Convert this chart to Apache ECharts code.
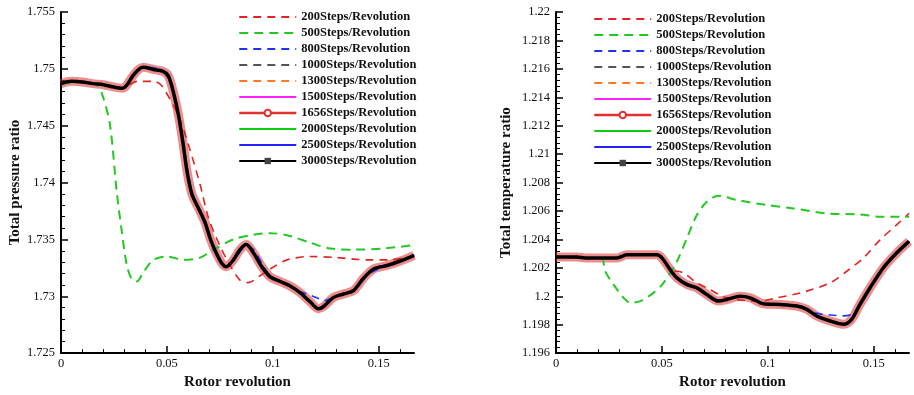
<!DOCTYPE html>
<html>
<head>
<meta charset="utf-8">
<script src="https://cdn.jsdelivr.net/npm/echarts@6/dist/echarts.min.js"></script>
<style>
  html, body { margin: 0; padding: 0; background: #fff; }
  #chart { width: 914px; height: 395px; }
</style>
</head>
<body>
<div id="chart"></div>
<script>
const seriesNames = [
  "200Steps/Revolution", "500Steps/Revolution", "800Steps/Revolution",
  "1000Steps/Revolution", "1300Steps/Revolution", "1500Steps/Revolution",
  "1656Steps/Revolution", "2000Steps/Revolution", "2500Steps/Revolution",
  "3000Steps/Revolution",
];

const xMajorTicks = [0, 0.05, 0.1, 0.15];
const xMinorTicks = [0.01, 0.02, 0.03, 0.04, 0.06, 0.07, 0.08, 0.09, 0.11, 0.12, 0.13, 0.14, 0.16];

// total pressure ratio (left panel)
const pressureFine = [
  [0, 1.7487], [0.005, 1.7489], [0.01, 1.74885], [0.015, 1.7487], [0.02, 1.7486],
  [0.025, 1.7484], [0.029, 1.7483], [0.031, 1.74855], [0.034, 1.7494], [0.037, 1.75],
  [0.039, 1.75015], [0.0436, 1.74995], [0.048, 1.7498], [0.0506, 1.7494], [0.053, 1.748],
  [0.0555, 1.7459], [0.0575, 1.7436], [0.0595, 1.741], [0.0618, 1.739], [0.065, 1.7377],
  [0.068, 1.7365], [0.0704, 1.7351], [0.0728, 1.734], [0.0759, 1.7329], [0.078, 1.7326],
  [0.0814, 1.7332], [0.0845, 1.7341], [0.0875, 1.73455], [0.0909, 1.7338], [0.0948, 1.7326],
  [0.0988, 1.7317], [0.1035, 1.7313], [0.1082, 1.7309], [0.113, 1.7303], [0.1177, 1.7295],
  [0.1215, 1.7289], [0.124, 1.7291], [0.1287, 1.7299], [0.1334, 1.7302], [0.1381, 1.7305],
  [0.1429, 1.7316], [0.1476, 1.7324], [0.1539, 1.7327], [0.1602, 1.7331], [0.1667, 1.7336],
];
const pressure200 = [
  [0, 1.7487], [0.01, 1.74885], [0.02, 1.7486], [0.029, 1.7483], [0.032, 1.7486],
  [0.036, 1.7489], [0.04, 1.7489], [0.044, 1.7489], [0.0476, 1.7485], [0.0554, 1.7459],
  [0.0602, 1.7433], [0.0657, 1.7398], [0.0696, 1.7369], [0.0751, 1.7344], [0.0799, 1.7327],
  [0.0846, 1.7314], [0.0884, 1.7312], [0.094, 1.7318], [0.0988, 1.7324], [0.1067, 1.7332],
  [0.1177, 1.7335], [0.13, 1.7334], [0.1445, 1.7332], [0.155, 1.7332], [0.1667, 1.7335],
];
const pressure500 = [
  [0, 1.7487], [0.01, 1.74885], [0.017, 1.7486], [0.0199, 1.7475], [0.0232, 1.745],
  [0.0263, 1.7392], [0.0287, 1.7357], [0.031, 1.7328], [0.0334, 1.7315], [0.0358, 1.7313],
  [0.0389, 1.7321], [0.0436, 1.7332], [0.05, 1.7335], [0.0578, 1.7332], [0.0657, 1.7334],
  [0.072, 1.7341], [0.0814, 1.735], [0.0909, 1.7354], [0.0988, 1.73555], [0.1082, 1.7353],
  [0.1177, 1.7347], [0.1271, 1.7342], [0.1381, 1.7341], [0.1523, 1.7342], [0.1667, 1.7345],
];
const pressure800 = [
  [0, 1.7487], [0.01, 1.74885], [0.02, 1.7486], [0.029, 1.7483], [0.034, 1.7494],
  [0.039, 1.75015], [0.048, 1.7498], [0.053, 1.748], [0.0575, 1.7436], [0.0618, 1.7392],
  [0.065, 1.7376], [0.068, 1.7363], [0.0728, 1.7339], [0.078, 1.7327], [0.0814, 1.7331],
  [0.0875, 1.7344], [0.0909, 1.7341], [0.0948, 1.7329], [0.0988, 1.7318], [0.1082, 1.7309],
  [0.113, 1.7304], [0.1177, 1.7301], [0.1215, 1.7298], [0.124, 1.7296], [0.1287, 1.7299],
  [0.1381, 1.7305], [0.1429, 1.7315], [0.1476, 1.7322], [0.1539, 1.7327], [0.1667, 1.7336],
];

// total temperature ratio (right panel)
const temperatureFine = [
  [0, 1.20276], [0.0099, 1.20276], [0.0138, 1.2027], [0.0288, 1.20269], [0.0335, 1.20292],
  [0.0476, 1.20292], [0.05, 1.2027], [0.0539, 1.20187], [0.0571, 1.20129], [0.0618, 1.20082],
  [0.0665, 1.20059], [0.0712, 1.20012], [0.0767, 1.19966], [0.0807, 1.19977], [0.0869, 1.2],
  [0.0917, 1.19989], [0.0979, 1.19947], [0.1058, 1.19942], [0.1137, 1.19931], [0.1184, 1.19908],
  [0.1231, 1.19861], [0.1294, 1.19826], [0.1357, 1.19803], [0.1396, 1.19838], [0.1435, 1.19942],
  [0.1483, 1.2006], [0.1545, 1.20199], [0.1608, 1.20304], [0.1667, 1.20386],
];
const temperature200 = [
  [0, 1.20276], [0.0138, 1.2027], [0.0288, 1.20269], [0.0335, 1.20292], [0.0476, 1.20292],
  [0.05, 1.2027], [0.0539, 1.2019], [0.0602, 1.20164], [0.0665, 1.20094], [0.0712, 1.20059],
  [0.0807, 1.19989], [0.0964, 1.19966], [0.1042, 1.19989], [0.1121, 1.20012], [0.1184, 1.20036],
  [0.1294, 1.20094], [0.1373, 1.20176], [0.1451, 1.20269], [0.153, 1.20397], [0.1608, 1.20502],
  [0.1667, 1.20583],
];
const temperature500 = [
  [0, 1.20276], [0.0138, 1.2027], [0.0215, 1.2027], [0.0232, 1.20176], [0.0272, 1.20082],
  [0.0319, 1.19989], [0.035, 1.19954], [0.0398, 1.19966], [0.046, 1.20024], [0.0508, 1.20094],
  [0.0571, 1.20246], [0.0618, 1.20409], [0.0665, 1.20571], [0.0712, 1.20665], [0.0767, 1.20707],
  [0.0854, 1.20677], [0.0995, 1.20642], [0.1121, 1.20618], [0.1278, 1.20583], [0.1435, 1.20576],
  [0.153, 1.2056], [0.1667, 1.2056],
];
const temperature800 = [
  [0, 1.20276], [0.0138, 1.2027], [0.0288, 1.20269], [0.0335, 1.20292], [0.0476, 1.20292],
  [0.05, 1.2027], [0.0571, 1.20129], [0.0665, 1.20059], [0.0767, 1.19966], [0.0869, 1.2],
  [0.0979, 1.19947], [0.1137, 1.19931], [0.1184, 1.19912], [0.1231, 1.1988], [0.1294, 1.19868],
  [0.1357, 1.19862], [0.1396, 1.19875], [0.1435, 1.19942], [0.1545, 1.20199], [0.1667, 1.20386],
];

const FONT = '"Times New Roman", "Liberation Serif", serif';

const STYLES = {
  "200Steps/Revolution": { color: "#e02424", type: [8, 6], width: 1.6, z: 4 },
  "500Steps/Revolution": { color: "#22c922", type: [9, 6], width: 2, z: 4 },
  "800Steps/Revolution": { color: "#2233ee", type: [8, 6], width: 1.6, z: 3 },
  "1000Steps/Revolution": { color: "#555555", type: [8, 6], width: 1.6, z: 2 },
  "1300Steps/Revolution": { color: "#ff7722", type: [8, 6], width: 1.6, z: 2 },
  "1500Steps/Revolution": { color: "#ff22ff", type: "solid", width: 1.6, z: 2 },
  "1656Steps/Revolution": { color: "#e03030", type: "solid", width: 9, z: 1, opacity: 0.55, symbol: "emptyCircle" },
  "2000Steps/Revolution": { color: "#11cc11", type: "solid", width: 1.6, z: 2 },
  "2500Steps/Revolution": { color: "#2222ff", type: "solid", width: 1.6, z: 2 },
  "3000Steps/Revolution": { color: "#000000", type: "solid", width: 3.5, z: 5, symbol: "rect" },
};

const pressureData = {
  "200Steps/Revolution": pressure200,
  "500Steps/Revolution": pressure500,
  "800Steps/Revolution": pressure800,
};
const temperatureData = {
  "200Steps/Revolution": temperature200,
  "500Steps/Revolution": temperature500,
  "800Steps/Revolution": temperature800,
};

function makeSeries(name, data, xIdx, yIdx) {
  const s = STYLES[name];
  return {
    name,
    type: "line",
    xAxisIndex: xIdx,
    yAxisIndex: yIdx,
    data,
    z: s.z,
    symbol: s.symbol || "none",
    showSymbol: false,
    smooth: 0.3,
    color: s.color,
    lineStyle: { color: s.color, type: s.type, width: s.width, opacity: s.opacity ?? 1 },
    emphasis: { disabled: true },
  };
}

const series = [];
seriesNames.forEach((n) => series.push(makeSeries(n, pressureData[n] || pressureFine, 0, 0)));
seriesNames.forEach((n) => series.push(makeSeries(n, temperatureData[n] || temperatureFine, 2, 1)));

const legendData = seriesNames.map((n) => {
  if (n === "1656Steps/Revolution") {
    return { name: n, lineStyle: { width: 2.5, opacity: 1 }, itemStyle: { color: "#e03030", borderWidth: 1 } };
  }
  if (n === "3000Steps/Revolution") {
    return { name: n, lineStyle: { width: 2 }, itemStyle: { color: "#444" } };
  }
  return { name: n, lineStyle: { width: 2 }, itemStyle: { opacity: 0 } };
});

function legendAt(left, top) {
  return {
    orient: "vertical",
    left,
    top,
    itemWidth: 57,
    itemHeight: 8,
    itemGap: 2,
    selectedMode: false,
    textStyle: { fontFamily: FONT, fontWeight: "bold", fontSize: 12.5, color: "#111", lineHeight: 14 },
    data: legendData,
  };
}

const axisText = { fontFamily: FONT, fontSize: 12.5, color: "#111" };
const nameText = { fontFamily: FONT, fontSize: 15, fontWeight: "bold", color: "#111" };

function xMain(gridIndex) {
  return {
    type: "value",
    gridIndex,
    min: 0,
    max: 1 / 6,
    position: "bottom",
    name: "Rotor revolution",
    nameLocation: "middle",
    nameGap: 17,
    nameTextStyle: nameText,
    axisLine: { show: true, lineStyle: { color: "#000", width: 2 } },
    axisTick: { show: true, inside: true, length: 7, lineStyle: { color: "#000", width: 1.5 }, customValues: xMajorTicks },
    axisLabel: { ...axisText, margin: 4, customValues: xMajorTicks },
    splitLine: { show: false },
  };
}
function xMinor(gridIndex) {
  return {
    type: "value",
    gridIndex,
    min: 0,
    max: 1 / 6,
    position: "bottom",
    axisLine: { show: false },
    axisTick: { show: true, inside: true, length: 4, lineStyle: { color: "#000", width: 1 }, customValues: xMinorTicks },
    axisLabel: { show: false },
    splitLine: { show: false },
  };
}
function yAxis(gridIndex, min, max, interval, name, nameGap) {
  return {
    type: "value",
    gridIndex,
    min,
    max,
    interval,
    name,
    nameLocation: "middle",
    nameGap,
    nameTextStyle: nameText,
    axisLine: { show: true, lineStyle: { color: "#000", width: 2 } },
    axisTick: { show: true, inside: true, length: 7, lineStyle: { color: "#000", width: 1.5 } },
    minorTick: { show: true, splitNumber: 5, length: 4, lineStyle: { color: "#000", width: 1 } },
    axisLabel: { ...axisText, margin: 6 },
    splitLine: { show: false },
  };
}

const chart = echarts.init(document.getElementById("chart"), null, { renderer: "canvas" });
chart.setOption({
  animation: false,
  backgroundColor: "#fff",
  grid: [
    { left: 61, top: 12, width: 353, height: 344 },
    { left: 556, top: 12, width: 353, height: 344 },
  ],
  legend: [legendAt(233, 5), legendAt(588, 7)],
  xAxis: [xMain(0), xMinor(0), xMain(1), xMinor(1)],
  yAxis: [
    yAxis(0, 1.725, 1.755, 0.005, "Total pressure ratio", 29),
    yAxis(1, 1.196, 1.22, 0.002, "Total temperature ratio", 42),
  ],
  series,
});
</script>
</body>
</html>
